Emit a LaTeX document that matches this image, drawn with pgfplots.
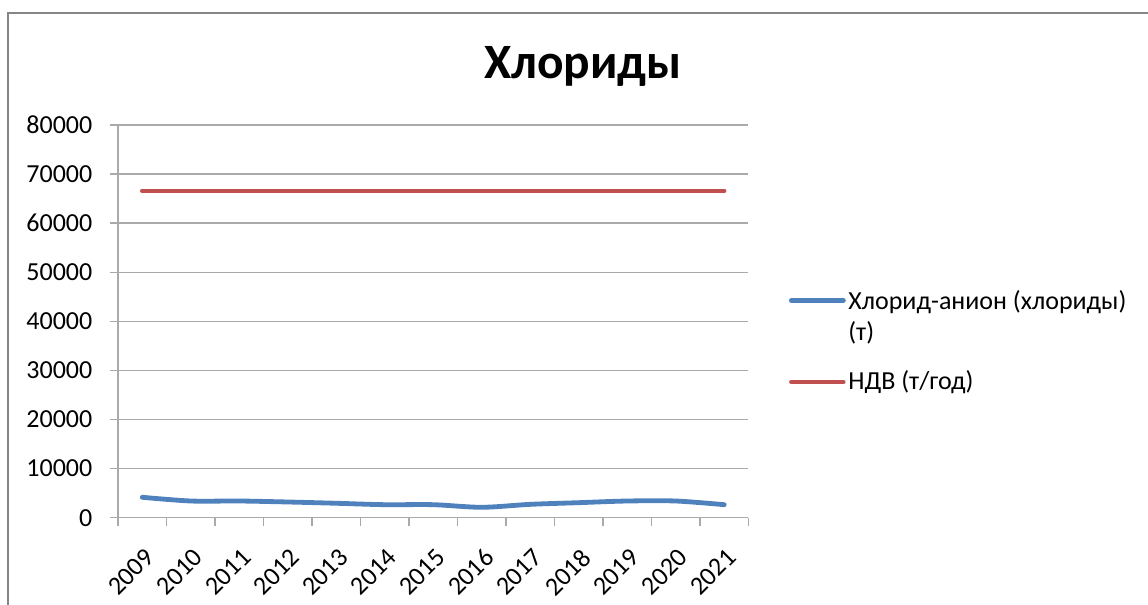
\documentclass[border=0pt]{standalone}
\usepackage{fontspec}
\setmainfont{Carlito}
\usepackage{pgfplots}
\pgfplotsset{compat=1.18}
\definecolor{xlblue}{RGB}{79,129,189}
\definecolor{xlred}{RGB}{192,80,77}
\definecolor{gridgray}{RGB}{170,170,170}
\definecolor{framegray}{RGB}{134,134,134}
\begin{document}
\begin{tikzpicture}
\useasboundingbox (-45.38pt,-33.57pt) rectangle (396.15pt,199.11pt);
\begin{axis}[
  at={(0,0)}, anchor=south west,
  scale only axis, width=242.49pt, height=151.03pt,
  xmin=-0.5, xmax=12.5, ymin=0, ymax=80000,
  xtick={-0.5,0.5,1.5,2.5,3.5,4.5,5.5,6.5,7.5,8.5,9.5,10.5,11.5,12.5},
  x tick label as interval,
  xticklabels={2009,2010,2011,2012,2013,2014,2015,2016,2017,2018,2019,2020,2021},
  ytick={0,10000,20000,30000,40000,50000,60000,70000,80000},
  scaled y ticks=false,
  /pgf/number format/.cd, fixed, set thousands separator={}, assume math mode=true, /pgfplots/.cd,
  axis lines*=left,
  tick align=outside,
  major tick length=3.08pt,
  ymajorgrids,
  grid style={gridgray, line width=0.55pt},
  axis line style={gridgray, line width=0.55pt},
  tick style={gridgray, line width=0.55pt},
  yticklabel style={inner sep=0pt, anchor=east, xshift=-6.6pt, font=\fontsize{10}{12}\selectfont},
  xticklabel style={inner sep=0pt, yshift=-8pt, xshift=0.5pt, rotate=45, anchor=north east, font=\fontsize{10}{12}\selectfont},
  title={Хлориды},
  title style={at={(0.7375,1.080)}, anchor=base, inner sep=0pt, font=\fontsize{19}{23}\selectfont\bfseries},
  legend style={at={(1.0642,0.5798)}, anchor=north west, draw=none, fill=none,
    inner sep=0pt, outer sep=0pt, row sep=10pt, column sep=1pt,
    nodes={inner sep=0pt, align=left, font=\fontsize{10}{12.2}\selectfont}},
  legend cell align=left,
  legend image code/.code={\draw[#1, line cap=round] (0pt,0pt) -- (20pt,0pt);},
]
\addplot[xlblue, line width=1.85pt, smooth, tension=0.5, line cap=round,
  legend image post style={yshift=6.5pt}] coordinates {
  (0,4160) (1,3400) (2,3400) (3,3200) (4,2940) (5,2650) (6,2650)
  (7,2120) (8,2720) (9,3060) (10,3400) (11,3400) (12,2650)};
\addlegendentry{Хлорид-анион (хлориды)\\(т)}
\addplot[xlred, line width=1.73pt, line cap=round] coordinates {
  (0,66600) (1,66600) (2,66600) (3,66600) (4,66600) (5,66600) (6,66600)
  (7,66600) (8,66600) (9,66600) (10,66600) (11,66600) (12,66600)};
\addlegendentry{НДВ (т/год)}
\end{axis}
\draw[framegray, line width=0.96pt] (-42.31pt,-33.57pt) -- (-42.31pt,194.1pt) -- (396.15pt,194.1pt);
\end{tikzpicture}
\end{document}
